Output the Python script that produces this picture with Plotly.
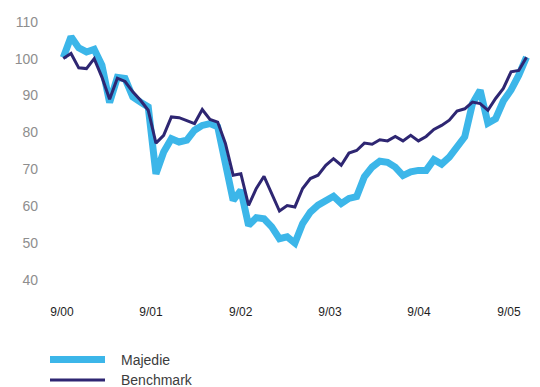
import plotly.graph_objects as go

# Monthly index values, 9/00 .. 9/05 (rebased to 100)
months = list(range(61))
majedie = [100.3, 105.9, 102.9, 101.8, 102.5, 98.2, 88.1, 94.9, 94.6, 89.6,
           88.2, 86.9, 68.8, 74.7, 78.3, 77.4, 77.9, 80.6, 81.9, 82.4,
           81.5, 70.5, 61.6, 64.3, 54.8, 56.9, 56.6, 54.4, 51.2, 51.7,
           50.0, 55.3, 58.4, 60.3, 61.3, 62.7, 60.7, 62.1, 62.6, 68.0,
           70.6, 72.2, 71.9, 70.6, 68.3, 69.3, 69.7, 69.7, 72.6, 71.4,
           73.3, 76.0, 78.8, 87.8, 91.4, 82.5, 83.7, 88.5, 91.5, 95.5,
           100.4]
benchmark = [100.0, 101.4, 97.5, 97.3, 100.0, 95.0, 89.0, 94.7, 93.8, 91.0,
             88.7, 86.0, 77.1, 79.2, 84.2, 84.0, 83.2, 82.4, 86.2, 83.5,
             82.8, 77.0, 68.4, 68.8, 60.2, 64.8, 68.1, 63.4, 58.7, 60.2,
             59.8, 64.8, 67.5, 68.4, 71.1, 72.9, 71.1, 74.4, 75.1, 77.1,
             76.8, 78.0, 77.7, 78.9, 77.7, 79.2, 77.7, 78.9, 80.8, 81.9,
             83.3, 85.8, 86.4, 88.2, 87.8, 86.0, 89.2, 91.9, 96.4, 96.8,
             100.4]

tick_pos = [-0.17, 11.36, 22.98, 34.54, 46.07, 57.73]
tick_text = ["9/00", "9/01", "9/02", "9/03", "9/04", "9/05"]
y_ticks = [40, 50, 60, 70, 80, 90, 100, 110]

series_names = ["Majedie", "Benchmark"]
series_colors = ["#3cb6e9", "#2e2672"]
series_widths = [7, 3]

W, H = 540, 387
ML, MR, MT, MB = 56, 5, 14, 92
PW, PH = W - ML - MR, H - MT - MB


def px_to_paper_x(px):
    return (px - ML) / PW


def px_to_paper_y(py):
    return (H - MB - py) / PH


fig = go.Figure()
for vals, name, color, width in zip([majedie, benchmark], series_names,
                                    series_colors, series_widths):
    fig.add_trace(go.Scatter(
        x=months, y=vals, mode="lines", name=name,
        line=dict(color=color, width=width),
        showlegend=False, hoverinfo="skip",
    ))

# Legend drawn below the plot: long line swatches with labels
legend_rows = [359.5, 380.0]
for row_y, name, color, width in zip(legend_rows, series_names,
                                     series_colors, series_widths):
    fig.add_shape(
        type="line", xref="paper", yref="paper",
        x0=px_to_paper_x(50), x1=px_to_paper_x(105),
        y0=px_to_paper_y(row_y), y1=px_to_paper_y(row_y),
        line=dict(color=color, width=width),
    )
    fig.add_annotation(
        text=name, xref="paper", yref="paper",
        x=px_to_paper_x(119), y=px_to_paper_y(row_y),
        xanchor="left", yanchor="middle", showarrow=False,
        font=dict(family="Liberation Sans, Arial, sans-serif", size=14,
                  color="#3c3c3c"),
    )

fig.update_layout(
    width=W, height=H,
    margin=dict(l=ML, r=MR, t=MT, b=MB, pad=0),
    paper_bgcolor="white", plot_bgcolor="white",
    xaxis=dict(
        range=[-0.946, -0.946 + PW / 7.72],
        tickvals=tick_pos, ticktext=tick_text,
        showgrid=False, zeroline=False, showline=False, ticks="",
        tickfont=dict(family="Liberation Sans, Arial, sans-serif", size=12,
                      color="#1e1e1e"),
        ticklabelstandoff=8,
    ),
    yaxis=dict(
        range=[112.09 - PH / 3.69, 112.09],
        tickvals=y_ticks,
        showgrid=False, zeroline=False, showline=False, ticks="",
        tickfont=dict(family="Liberation Sans, Arial, sans-serif", size=14,
                      color="#8e8e8e"),
        ticklabelstandoff=17,
    ),
)

fig.write_html("out.html")
